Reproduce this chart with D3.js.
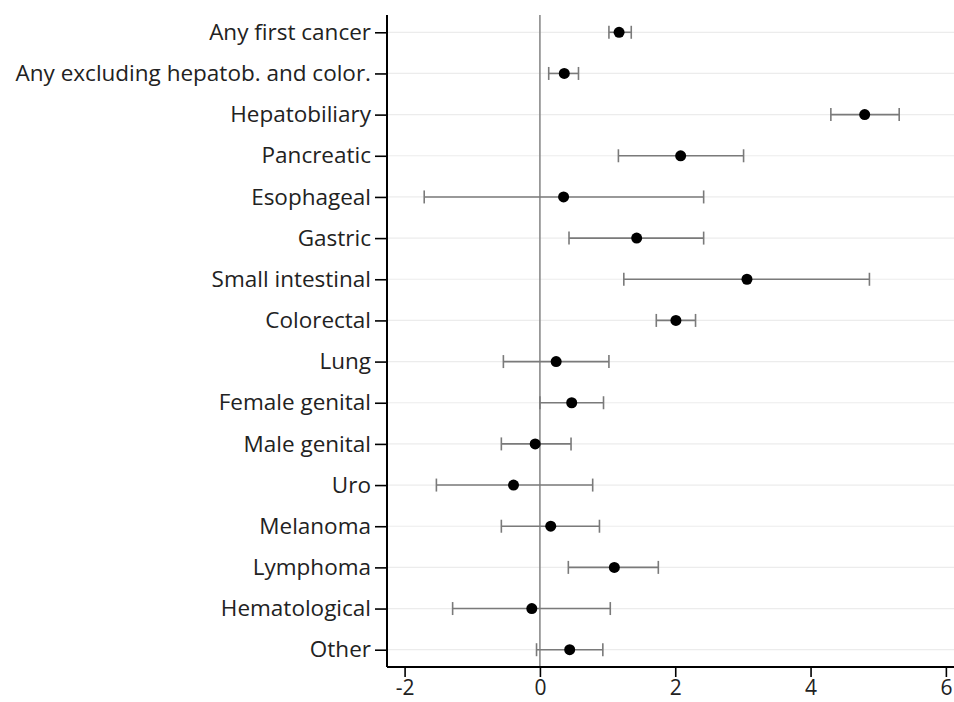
<!DOCTYPE html>
<html>
<head>
<meta charset="utf-8">
<script src="https://cdn.jsdelivr.net/npm/d3@7"></script>
<style>
  html, body { margin: 0; padding: 0; background: #fff; }
  svg { display: block; }
  .axis text { font-family: "Open Sans", Lato, sans-serif; font-size: 22.5px; fill: #222; }
  .xaxis text { font-size: 21px; }
</style>
</head>
<body>
<svg id="chart" width="954" height="702"></svg>
<script>
const categories = ["Any first cancer", "Any excluding hepatob. and color.", "Hepatobiliary", "Pancreatic",
  "Esophageal", "Gastric", "Small intestinal", "Colorectal", "Lung", "Female genital", "Male genital",
  "Uro", "Melanoma", "Lymphoma", "Hematological", "Other"];
const estimates = [1.17, 0.36, 4.80, 2.08, 0.35, 1.43, 3.06, 2.01, 0.24, 0.47, -0.07, -0.39, 0.16, 1.10, -0.12, 0.44];
const lower =     [1.02, 0.13, 4.30, 1.16, -1.71, 0.43, 1.24, 1.72, -0.54, 0.00, -0.57, -1.53, -0.57, 0.42, -1.29, -0.05];
const upper =     [1.35, 0.57, 5.31, 3.01, 2.42, 2.42, 4.87, 2.30, 1.02, 0.94, 0.46, 0.78, 0.88, 1.75, 1.04, 0.93];
const xTicks = [-2, 0, 2, 4, 6];

const svg = d3.select("#chart");
const mLeft = 387, mRight = 954, mTop = 15, mBottom = 667;

const x = d3.scaleLinear().domain([-2.26, 6.12]).range([mLeft, mRight]);
const y = d3.scalePoint().domain(categories).range([mTop, mBottom]).padding(0.42);

const rows = categories.map((c, i) => ({ c, est: estimates[i], lo: lower[i], hi: upper[i] }));

// gridlines
svg.append("g").selectAll("line").data(categories).join("line")
  .attr("x1", mLeft).attr("x2", mRight)
  .attr("y1", d => y(d)).attr("y2", d => y(d))
  .attr("stroke", "#ececec").attr("stroke-width", 1.2);

// zero reference line
svg.append("line")
  .attr("x1", x(0)).attr("x2", x(0)).attr("y1", mTop).attr("y2", mBottom)
  .attr("stroke", "#8a8a8a").attr("stroke-width", 1.6);

// whiskers
const w = svg.append("g").attr("stroke", "#7a7a7a").attr("stroke-width", 1.6);
w.selectAll("line.ci").data(rows).join("line").attr("class", "ci")
  .attr("x1", d => x(d.lo)).attr("x2", d => x(d.hi))
  .attr("y1", d => y(d.c)).attr("y2", d => y(d.c));
w.selectAll("line.capl").data(rows).join("line").attr("class", "capl")
  .attr("x1", d => x(d.lo)).attr("x2", d => x(d.lo))
  .attr("y1", d => y(d.c) - 6.5).attr("y2", d => y(d.c) + 6.5);
w.selectAll("line.caph").data(rows).join("line").attr("class", "caph")
  .attr("x1", d => x(d.hi)).attr("x2", d => x(d.hi))
  .attr("y1", d => y(d.c) - 6.5).attr("y2", d => y(d.c) + 6.5);

// points
svg.append("g").selectAll("circle").data(rows).join("circle")
  .attr("cx", d => x(d.est)).attr("cy", d => y(d.c)).attr("r", 5.5)
  .attr("fill", "#000");

// axes
const yAxis = d3.axisLeft(y).tickSize(12).tickPadding(4).tickSizeOuter(0);
const gy = svg.append("g").attr("class", "axis").attr("transform", `translate(${mLeft},0)`).call(yAxis);
gy.select(".domain").attr("stroke", "#000").attr("stroke-width", 2).attr("d", `M0,${mTop}V${mBottom}`);
gy.selectAll(".tick line").attr("stroke", "#000").attr("stroke-width", 1.6);

const xAxis = d3.axisBottom(x).tickValues(xTicks).tickFormat(d3.format("d")).tickSize(10).tickPadding(3).tickSizeOuter(0);
const gx = svg.append("g").attr("class", "axis xaxis").attr("transform", `translate(0,${mBottom})`).call(xAxis);
gx.select(".domain").attr("stroke", "#000").attr("stroke-width", 2).attr("d", `M${mLeft},0H${mRight}`);
gx.selectAll(".tick line").attr("stroke", "#000").attr("stroke-width", 1.6);
gx.selectAll(".tick text").text(d => d < 0 ? "-" + Math.abs(d) : String(d));
</script>
</body>
</html>
